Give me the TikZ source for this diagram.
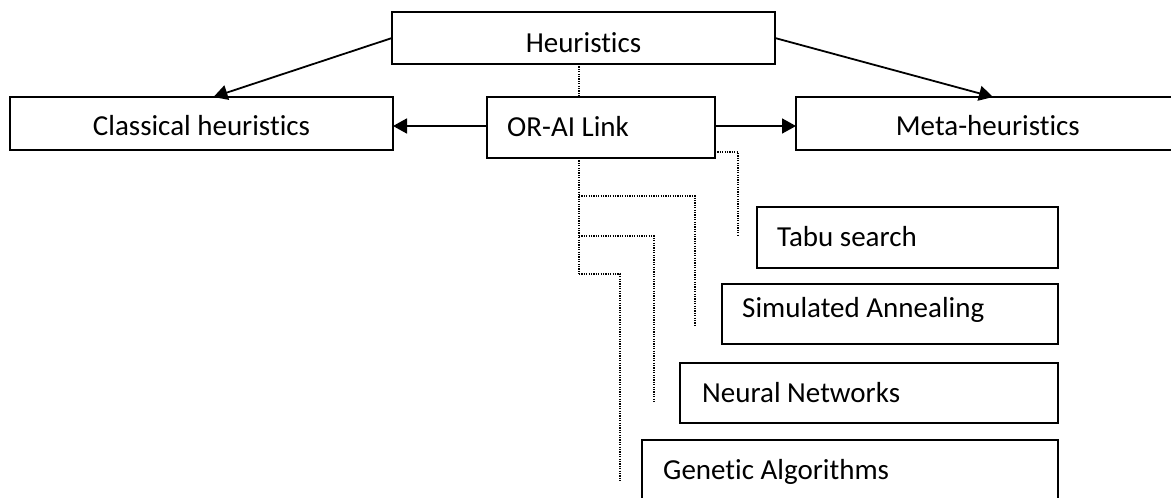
\documentclass[tikz,border=0pt]{standalone}
\usepackage{fontspec}
\setmainfont{Carlito}[Ligatures={NoCommon}]
\usetikzlibrary{arrows.meta,calc}

\tikzset{
  box/.style={draw, line width=1.8pt, inner sep=0pt, outer sep=0pt,
              anchor=north west},
  lbl/.style={inner sep=0pt, font=\fontsize{29}{35}\selectfont},
  arr/.style={line width=1.8pt, -{Triangle[length=14pt,width=15pt]}},
  dots/.style={line width=1.3pt, dash pattern=on 1.2pt off 1.2pt}
}

\begin{document}
\begin{tikzpicture}[x=1pt, y=-1pt]
  \useasboundingbox (0,0) rectangle (1171,498);
  \clip (0,0) rectangle (1171,498);

  % boxes
  \node[box, minimum width=383pt, minimum height=52pt] (heur)    at (392,12)  {};
  \node[box, minimum width=383pt, minimum height=53pt] (classic) at (10,97)   {};
  \node[box, minimum width=228pt, minimum height=61pt] (orai)    at (487,97)  {};
  \node[box, minimum width=394pt, minimum height=53pt] (meta)    at (796,97)  {};
  \node[box, minimum width=301pt, minimum height=61pt] (tabu)    at (757,207) {};
  \node[box, minimum width=336pt, minimum height=60pt] (sa)      at (722,284) {};
  \node[box, minimum width=378pt, minimum height=60pt] (nn)      at (680,363) {};
  \node[box, minimum width=416pt, minimum height=75pt] (ga)      at (642,440) {};

  % labels
  \node[lbl, anchor=base]      (heur-t)    at (583.5,52) {Heuristics};
  \node[lbl, anchor=base]      (classic-t) at (201.5,135) {Classical heuristics};
  \node[lbl, anchor=base west] (orai-t)    at (507,136) {OR-AI Link};
  \node[lbl, anchor=base east] (meta-t)    at (1080,135) {Meta-heuristics};
  \node[lbl, anchor=base west] (tabu-t)    at (777,246) {Tabu search};
  \node[lbl, anchor=base west] (sa-t)      at (742,317) {Simulated Annealing};
  \node[lbl, anchor=base west] (nn-t)      at (702,402) {Neural Networks};
  \node[lbl, anchor=base west] (ga-t)      at (663,479) {Genetic Algorithms};

  % solid arrows
  \draw[arr] (heur.west) -- ([xshift=12pt]classic.north);
  \draw[arr] (heur.east) -- (meta.north);
  \draw[arr] ([yshift=1.5pt]orai.west) -- ([yshift=1.5pt]orai.west -| classic.east);
  \draw[arr] ([yshift=1.5pt]orai.east) -- ([yshift=1.5pt]orai.east -| meta.west);

  % dotted links
  \coordinate (trunk) at (579,0);
  \coordinate (b1) at (579,196);
  \coordinate (b2) at (579,236);
  \coordinate (b3) at (579,274);
  \coordinate (e0) at (738,235);
  \coordinate (e1) at (695,325);
  \coordinate (e2) at (654,403);
  \coordinate (e3) at (620,481);

  \draw[dots] (heur.south -| trunk) -- (orai.north -| trunk);
  \draw[dots] (orai.south -| trunk) -- (b3);
  \draw[dots] ([yshift=6pt]orai.south east) -| (e0);
  \draw[dots] (b1) -| (e1);
  \draw[dots] (b2) -| (e2);
  \draw[dots] (b3) -| (e3);
\end{tikzpicture}
\end{document}
